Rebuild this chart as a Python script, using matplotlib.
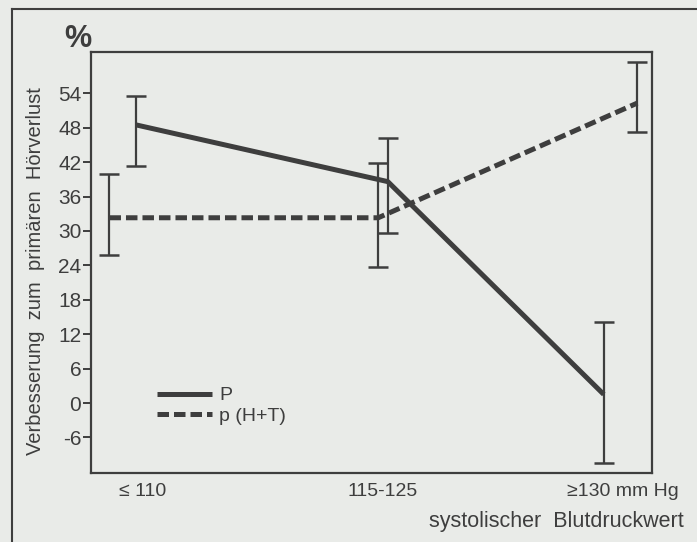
import matplotlib.pyplot as plt
from matplotlib.lines import Line2D

plt.rcParams['font.family'] = ['Liberation Sans', 'DejaVu Sans']

# Kategorien (systolischer Blutdruck)
categories = ['≤ 110', '115-125', '≥130 mm Hg']
cat_pos = [0, 1, 2]

# Serie P
p_offset = [-0.03, 0.02, -0.08]
p_values = [48.5, 38.6, 1.5]
p_low = [41.4, 29.6, -10.5]
p_high = [53.6, 46.2, 14.1]

# Serie p(H+T)
ht_offset = [-0.14, -0.02, 0.06]
ht_values = [32.3, 32.3, 52.3]
ht_low = [25.8, 23.8, 47.2]
ht_high = [40.0, 41.8, 59.5]

y_ticks = [-6, 0, 6, 12, 18, 24, 30, 36, 42, 48, 54]

bg = '#e9ebe8'
ink = '#3e3e3e'

fig = plt.figure(figsize=(6.97, 5.42), dpi=100, facecolor=bg)
ax = fig.add_axes([91 / 697, 1 - 473 / 542, 561 / 697, 421 / 542])
ax.set_facecolor(bg)

# Rahmen aussen
fig.add_artist(Line2D([12 / 697, 12 / 697], [1 - 9 / 542, 0], color=ink, lw=1.5,
                      transform=fig.transFigure))
fig.add_artist(Line2D([12 / 697, 1], [1 - 9 / 542, 1 - 9 / 542], color=ink, lw=1.5,
                      transform=fig.transFigure))

xp = [c + o for c, o in zip(cat_pos, p_offset)]
xh = [c + o for c, o in zip(cat_pos, ht_offset)]

# Fehlerbalken
for x, v, lo, hi in [(xp, p_values, p_low, p_high), (xh, ht_values, ht_low, ht_high)]:
    yerr = [[a - b for a, b in zip(v, lo)], [b - a for a, b in zip(v, hi)]]
    ax.errorbar(x, v, yerr=yerr, fmt='none', ecolor=ink, elinewidth=1.6,
                capsize=7, capthick=1.8)

ax.plot(xp, p_values, color=ink, lw=3.6, solid_capstyle='butt', label='P')
ax.plot(xh, ht_values, color=ink, lw=3.6, linestyle=(0, (2.3, 1.0)), label='p (H+T)')

ax.set_xlim(-0.217, 2.121)
ax.set_ylim(-12.2, 61.2)
ax.set_yticks(y_ticks)
ax.set_yticklabels([str(t) for t in y_ticks])
ax.set_xticks(cat_pos)
ax.set_xticklabels(categories)
ax.tick_params(axis='y', direction='out', length=6, width=1.4, color=ink,
               labelsize=15, labelcolor=ink, pad=1)
ax.tick_params(axis='x', length=0, labelsize=14, labelcolor=ink, pad=7)
for s in ax.spines.values():
    s.set_color(ink)
    s.set_linewidth(1.6)

leg = ax.legend(loc='upper left', bbox_to_anchor=(0.118, 0.205), frameon=False,
                fontsize=14, handlelength=2.8, handletextpad=0.4, labelspacing=0.15,
                borderpad=0, borderaxespad=0)
for t in leg.get_texts():
    t.set_color(ink)

fig.text(78 / 697, 1 - 39 / 542, '%', fontsize=22, fontweight='bold', color=ink,
         ha='center', va='center')
fig.text(36 / 697, 1 - 271 / 542, 'Verbesserung  zum  primären  Hörverlust', rotation=90,
         fontsize=14.5, color=ink, ha='center', va='center')
fig.text(684 / 697, 1 - 522 / 542, 'systolischer  Blutdruckwert', fontsize=15.5, color=ink,
         ha='right', va='center')

fig.savefig('out.png', dpi=100, facecolor=bg)
